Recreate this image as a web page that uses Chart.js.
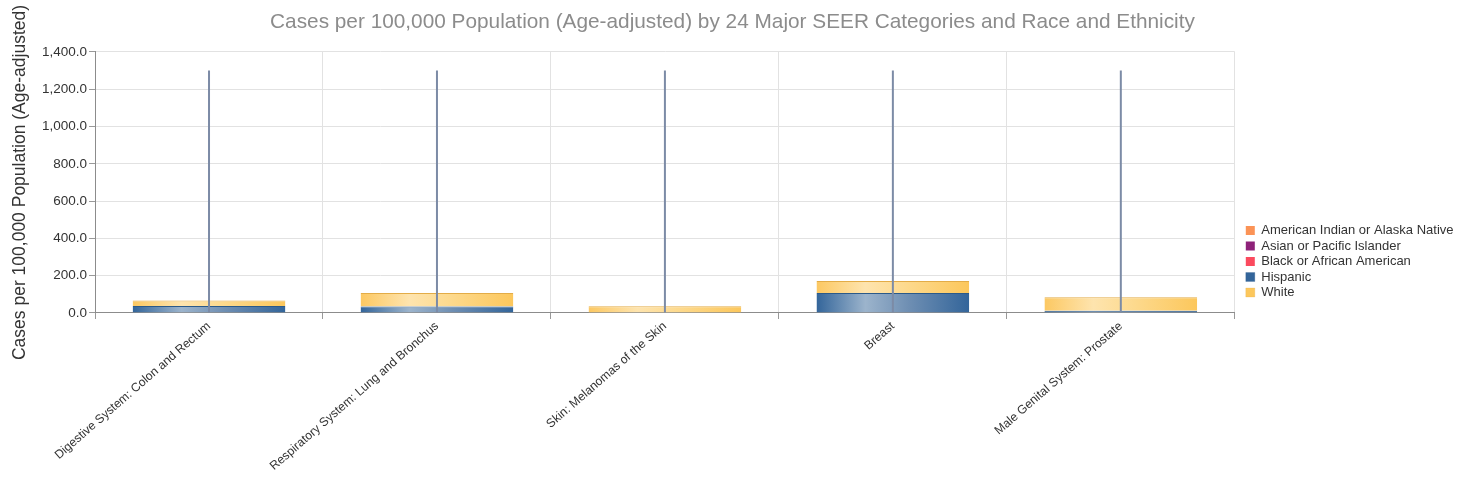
<!DOCTYPE html>
<html>
<head>
<meta charset="utf-8">
<script src="https://cdn.jsdelivr.net/npm/chart.js@4"></script>
<style>
  html, body { margin: 0; padding: 0; background: #fff; }
  #wrap { width: 1473px; height: 495px; }
</style>
</head>
<body>
<div id="wrap"><canvas id="chart"></canvas></div>
<script>
const sites = [
  'Digestive System: Colon and Rectum',
  'Respiratory System: Lung and Bronchus',
  'Skin: Melanomas of the Skin',
  'Breast',
  'Male Genital System: Prostate'
];

const aian = [null, null, null, null, null];
const api = [null, null, null, null, null];
const black = [null, null, null, null, null];
const hispanic = [37, 35, 3, 107, 12];
const white = [30, 72, 33, 65, 72];

// thin reference markers drawn at each category
const markerTops = [1300, 1300, 1300, 1300, 1300];

const FONT = "'Liberation Sans', Arial, sans-serif";
const BAR_RATIO = 0.67;

// horizontal shading across each bar
function shaded(stops, flat) {
  return ctx => {
    const chart = ctx.chart;
    if (!chart.chartArea || ctx.type !== 'data') return flat;
    const xs = chart.scales.x;
    const cx = xs.getPixelForValue(ctx.dataIndex);
    const half = (xs.width / sites.length) * BAR_RATIO / 2;
    const g = chart.ctx.createLinearGradient(cx - half, 0, cx + half, 0);
    stops.forEach(([o, c]) => g.addColorStop(o, c));
    return g;
  };
}

const blueFill = shaded([[0, '#33659a'], [0.32, '#9cb4cc'], [0.6, '#6f8fb3'], [1, '#33659a']], '#3a6899');
const yellowFill = shaded([[0, '#fcc862'], [0.32, '#fee4ae'], [0.6, '#fdd98c'], [1, '#fcc75c']], '#fdc85f');

function series(label, data, color, extra) {
  return Object.assign({
    label: label,
    data: data,
    backgroundColor: color,
    stack: 'cases',
    grouped: false,
    barPercentage: BAR_RATIO,
    categoryPercentage: 1
  }, extra || {});
}

// push the legend a little away from the plot area
const legendShift = {
  id: 'legendShift',
  afterLayout(chart) {
    const lg = chart.legend;
    if (!lg) return;
    lg.left += 8.5; lg.right += 8.5;
    lg.top += 9; lg.bottom += 9;
  }
};

new Chart(document.getElementById('chart'), {
  type: 'bar',
  data: {
    labels: sites,
    datasets: [
      series('American Indian or Alaska Native', aian, '#fb9356'),
      series('Asian or Pacific Islander', api, '#8e2279'),
      series('Black or African American', black, '#fb4a5e'),
      series('Hispanic', hispanic, blueFill, { borderColor: '#2b5a8a', borderWidth: { top: 1 }, borderSkipped: false }),
      series('White', white, yellowFill, { borderColor: '#e3ac47', borderWidth: { top: 1 }, borderSkipped: false }),
      {
        label: 'marker',
        data: markerTops,
        backgroundColor: '#7c8ba6',
        stack: 'marker',
        grouped: false,
        maxBarThickness: 2,
        order: -1
      }
    ]
  },
  plugins: [legendShift],
  options: {
    responsive: true,
    maintainAspectRatio: false,
    animation: false,
    layout: { padding: { top: 10, right: 18, bottom: 0, left: 10 } },
    plugins: {
      title: {
        display: true,
        text: 'Cases per 100,000 Population (Age-adjusted) by 24 Major SEER Categories and Race and Ethnicity',
        color: '#8c8c8c',
        font: { family: FONT, size: 20.8, weight: 'normal' },
        padding: { top: 0, bottom: 17 }
      },
      legend: {
        position: 'right',
        align: 'center',
        labels: {
          color: '#333',
          font: { family: FONT, size: 13 },
          boxWidth: 9,
          boxHeight: 9,
          padding: 2.5,
          filter: item => item.text !== 'marker'
        }
      },
      tooltip: { enabled: false }
    },
    scales: {
      x: {
        stacked: true,
        grid: { color: '#e2e2e2', tickColor: '#999', tickLength: 6, offset: true },
        border: { color: '#8c8c8c' },
        ticks: {
          color: '#333',
          font: { family: FONT, size: 12.2 },
          minRotation: 41,
          maxRotation: 41,
          padding: 0
        },
        afterFit: scale => { scale.height = 182; }
      },
      y: {
        stacked: true,
        min: 0,
        max: 1400,
        grid: { color: '#e2e2e2', tickColor: '#999', tickLength: 6 },
        border: { color: '#8c8c8c' },
        ticks: {
          stepSize: 200,
          color: '#333',
          font: { family: FONT, size: 13.5 },
          padding: 2,
          callback: v => v.toLocaleString('en-US', { minimumFractionDigits: 1, maximumFractionDigits: 1 })
        },
        title: {
          display: true,
          text: 'Cases per 100,000 Population (Age-adjusted)',
          color: '#333',
          font: { family: FONT, size: 17.5 },
          padding: { top: 0, bottom: 9 }
        }
      }
    }
  }
});
</script>
</body>
</html>
